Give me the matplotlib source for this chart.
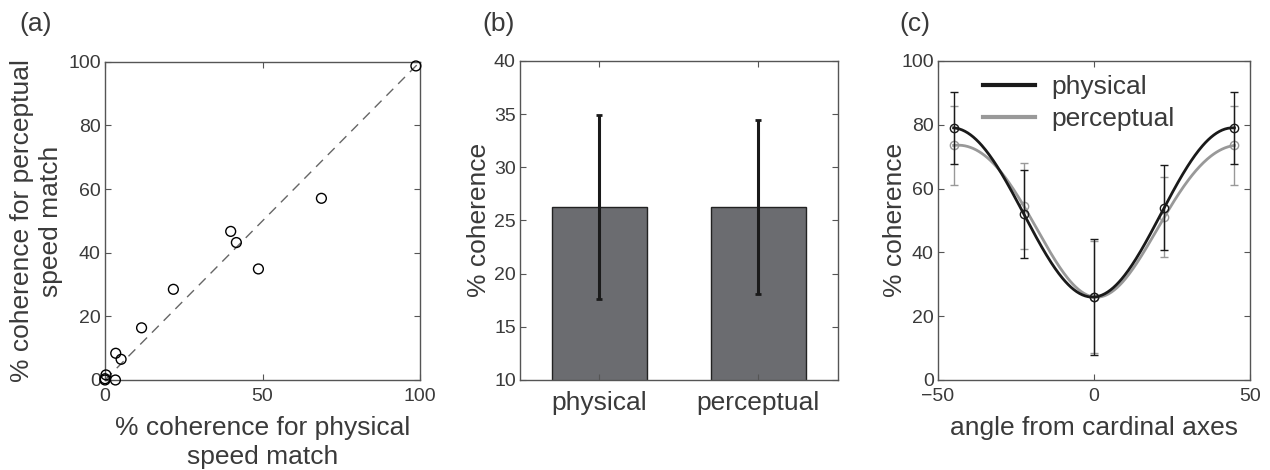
import matplotlib
matplotlib.use("Agg")
import matplotlib.pyplot as plt
import numpy as np

# (a) scatter: physical vs perceptual speed match
phys_match = [0.0, 0.3, 0.0, 3.3, 3.4, 5.1, 11.6, 21.7, 39.9, 41.7, 48.7, 68.7, 98.7]
perc_match = [0.0, 1.6, 0.4, 0.0, 8.4, 6.5, 16.4, 28.5, 46.7, 43.2, 34.9, 57.1, 98.7]

# (b) bar means and error bar limits
bar_names = ["physical", "perceptual"]
bar_means = [26.3, 26.3]
bar_low = [17.6, 18.1]
bar_high = [34.9, 34.4]

# (c) coherence vs angle
angles = [-45, -22.5, 0, 22.5, 45]
phys_coh = [79, 52, 26, 54, 79]
phys_err = [11.2, 13.7, 18.3, 13.3, 11.2]
perc_coh = [73.5, 54.5, 26, 51, 73.5]
perc_err = [12.3, 13.5, 17.5, 12.5, 12.3]

txt = "#3a3a3a"
ax_col = "#555555"
plt.rcParams["font.family"] = ["Liberation Sans", "DejaVu Sans"]
lab_fs = 19
tick_fs = 14

fig = plt.figure(figsize=(12.7, 4.7), dpi=100)

def style(ax):
    for s in ax.spines.values():
        s.set_color(ax_col)
        s.set_linewidth(1.0)
    ax.tick_params(direction="in", top=True, right=True, length=4,
                   color=ax_col, labelcolor=txt, labelsize=tick_fs, pad=3)
    ax.tick_params(axis="x", pad=6)

# panel a
ax1 = fig.add_axes([0.0827, 0.1915, 0.248, 0.677])
ax1.plot([0, 100], [0, 100], "--", color="#666666", lw=1, dashes=(7, 5))
ax1.scatter(phys_match, perc_match, s=50, facecolors="none", edgecolors="black", lw=1, zorder=3, clip_on=False)
ax1.set_xlim(0, 100)
ax1.set_ylim(0, 100)
ax1.set_xticks([0, 50, 100])
ax1.set_yticks(range(0, 101, 20))
ax1.set_xlabel("% coherence for physical\nspeed match", fontsize=lab_fs, color=txt, linespacing=1.25, labelpad=8)
ax1.set_ylabel("% coherence for perceptual\nspeed match", fontsize=lab_fs, color=txt, linespacing=1.25, labelpad=4)
style(ax1)

# panel b
ax2 = fig.add_axes([0.4094, 0.1915, 0.2504, 0.679])
xb = np.arange(1, len(bar_means) + 1)
ax2.bar(xb, bar_means, width=0.6, color="#6b6c70", edgecolor="#222222", lw=1)
yerr = [np.array(bar_means) - np.array(bar_low), np.array(bar_high) - np.array(bar_means)]
ax2.errorbar(xb, bar_means, yerr=yerr, fmt="none", ecolor="#1a1a1a", elinewidth=2.2, capsize=2, capthick=2)
ax2.set_xlim(0.5, 2.5)
ax2.set_ylim(10, 40)
ax2.set_xticks(xb)
ax2.set_xticklabels(bar_names)
ax2.set_yticks(range(10, 41, 5))
ax2.set_ylabel("% coherence", fontsize=lab_fs, color=txt, labelpad=2)
style(ax2)
ax2.tick_params(axis="x", labelsize=lab_fs, pad=8)

# panel c
ax3 = fig.add_axes([0.7386, 0.1915, 0.2457, 0.679])
ang = np.array(angles)
t = np.radians(ang)
basis = np.column_stack([np.ones_like(t), np.cos(4 * t), np.sin(4 * t), np.cos(8 * t)])
tt = np.linspace(-45, 45, 300)
tr = np.radians(tt)
bfine = np.column_stack([np.ones_like(tr), np.cos(4 * tr), np.sin(4 * tr), np.cos(8 * tr)])
for vals, errs, col, lab, z in [(perc_coh, perc_err, "#999999", "perceptual", 2),
                                 (phys_coh, phys_err, "#1a1a1a", "physical", 3)]:
    coef = np.linalg.lstsq(basis, np.array(vals, float), rcond=None)[0]
    ax3.errorbar(ang, vals, yerr=errs, fmt="o", mfc="none", mec=col, ms=6, ecolor=col,
                 elinewidth=1, capsize=3, zorder=z)
    ax3.plot(tt, bfine @ coef, color=col, lw=2, zorder=z, label=lab)
h, l = ax3.get_legend_handles_labels()
leg = ax3.legend(h[::-1], l[::-1], loc="upper left", bbox_to_anchor=(0.067, 1.03), frameon=False,
                 fontsize=lab_fs, handlelength=2.0, handletextpad=0.6, labelspacing=0.3)
for tx in leg.get_texts():
    tx.set_color(txt)
for ln in leg.get_lines():
    ln.set_linewidth(3)
ax3.set_xlim(-50, 50)
ax3.set_ylim(0, 100)
ax3.set_xticks([-50, 0, 50])
ax3.set_yticks(range(0, 101, 20))
ax3.set_xlabel("angle from cardinal axes", fontsize=lab_fs, color=txt, labelpad=8)
ax3.set_ylabel("% coherence", fontsize=lab_fs, color=txt, labelpad=-4)
style(ax3)

for x, lab in [(0.015, "(a)"), (0.38, "(b)"), (0.708, "(c)")]:
    fig.text(x, 0.975, lab, fontsize=19, color=txt, va="top")

fig.savefig("out.png", dpi=100)
